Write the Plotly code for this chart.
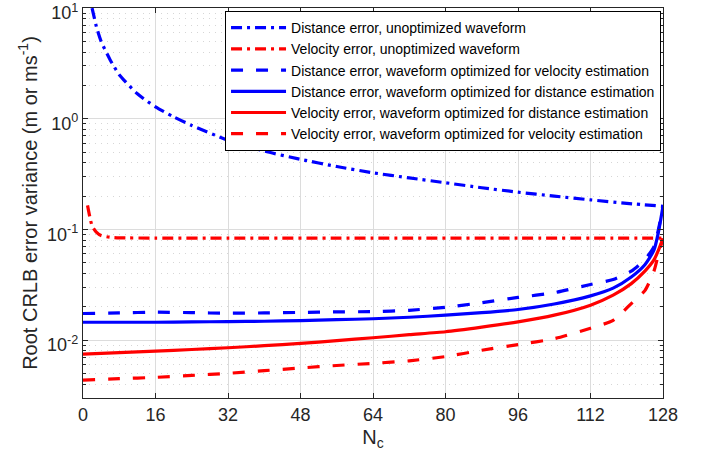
import plotly.graph_objects as go

# Number of chirps on the x axis
n_dist_unopt = [2, 3, 4, 6, 8, 12, 16, 20, 24, 32, 40, 48, 56, 64, 72, 80, 88, 96, 104, 112, 120, 128]
dist_unopt = [10.0, 6.7, 5.0, 3.4, 2.5, 1.68, 1.28, 1.04, 0.87, 0.64, 0.51, 0.43, 0.37, 0.325,
              0.292, 0.264, 0.238, 0.217, 0.2, 0.185, 0.172, 0.162]

n_vel_unopt = [1, 1.5, 2, 3, 4, 6, 8, 16, 32, 64, 96, 128]
vel_unopt = [0.165, 0.13, 0.108, 0.094, 0.088, 0.085, 0.084, 0.0835, 0.0835, 0.0835, 0.0835, 0.0835]

n_opt = [0, 8, 16, 24, 32, 40, 48, 56, 64, 72, 80, 88, 96, 104, 112, 117, 121, 124, 126, 127, 128]
dist_opt_vel = [0.0174, 0.0176, 0.0179, 0.0177, 0.0175, 0.0176, 0.0178, 0.018, 0.0181, 0.0186,
                0.0198, 0.0218, 0.0243, 0.0268, 0.0318, 0.0353, 0.042, 0.0534, 0.07, 0.1, 0.162]
dist_opt_dist = [0.0145, 0.0145, 0.0145, 0.0146, 0.0147, 0.0148, 0.015, 0.0153, 0.0156, 0.0161,
                 0.0168, 0.0177, 0.0189, 0.0212, 0.0251, 0.0295, 0.0372, 0.048, 0.065, 0.095, 0.162]
vel_opt_dist = [0.00748, 0.0077, 0.00796, 0.00823, 0.00853, 0.0089, 0.00933, 0.0099, 0.0105,
                0.0112, 0.0119, 0.0131, 0.0146, 0.0168, 0.0207, 0.0255, 0.0324, 0.042, 0.053, 0.065, 0.083]
vel_opt_vel = [0.00436, 0.00448, 0.00461, 0.0048, 0.00501, 0.0053, 0.0056, 0.0059, 0.00617,
               0.0065, 0.0071, 0.0081, 0.0091, 0.0103, 0.0128, 0.0151, 0.0214, 0.028, 0.042, 0.06, 0.083]

x_ticks = [0, 16, 32, 48, 64, 80, 96, 112, 128]
y_ticks = [0.01, 0.1, 1, 10]
y_tick_text = ["10<sup>-2</sup>", "10<sup>-1</sup>", "10<sup>0</sup>", "10<sup>1</sup>"]
y_minor = [m * 10.0 ** k for k in range(-3, 1) for m in range(2, 10)]

BLUE = "#0000ff"
RED = "#ff0000"
DASHDOT = "11px,5px,3px,5px"
DASH = "12px,13px"
LW = 3.2

fig = go.Figure()
series = [
    (n_dist_unopt, dist_unopt, BLUE, DASHDOT, "Distance error, unoptimized waveform"),
    (n_vel_unopt, vel_unopt, RED, DASHDOT, "Velocity error, unoptimized waveform"),
    (n_opt, dist_opt_vel, BLUE, DASH, "Distance error, waveform optimized for velocity estimation"),
    (n_opt, dist_opt_dist, BLUE, "solid", "Distance error, waveform optimized for distance estimation"),
    (n_opt, vel_opt_dist, RED, "solid", "Velocity error, waveform optimized for distance estimation"),
    (n_opt, vel_opt_vel, RED, DASH, "Velocity error, waveform optimized for velocity estimation"),
]
for xs, ys, color, dash, name in series:
    fig.add_trace(go.Scatter(
        x=xs, y=ys, mode="lines", name=name,
        line=dict(color=color, width=LW, dash=dash, shape="spline", smoothing=0.6),
    ))

axis_line = "#262626"
fig.update_layout(
    width=706, height=464,
    margin=dict(l=83, r=43, t=8, b=66, autoexpand=False),
    paper_bgcolor="white", plot_bgcolor="white",
    font=dict(family="Liberation Sans, Arial, sans-serif", color="#262626"),
    showlegend=True,
    legend=dict(
        x=0.9966, y=0.992, xanchor="right", yanchor="top",
        bgcolor="white", bordercolor="#000000", borderwidth=1,
        font=dict(size=14, color="#000000"), itemwidth=55,
        tracegroupgap=0,
    ),
)
fig.update_xaxes(
    range=[0, 128], tickvals=x_ticks, ticktext=[str(v) for v in x_ticks],
    showgrid=True, gridcolor="#dcdcdc", gridwidth=1,
    showline=True, linecolor=axis_line, linewidth=1.3, mirror="ticks",
    ticks="inside", ticklen=5, tickcolor=axis_line,
    tickfont=dict(size=18), zeroline=False, ticklabeloverflow="allow", automargin=False,
    title=dict(text="N<sub>c</sub>", font=dict(size=20), standoff=6),
)
fig.update_yaxes(
    type="log", range=[-2.5229, 1.0004],
    tickvals=y_ticks, ticktext=y_tick_text,
    showgrid=True, gridcolor="#dcdcdc", gridwidth=1,
    showline=True, linecolor=axis_line, linewidth=1.3, mirror="ticks",
    ticks="inside", ticklen=5, tickcolor=axis_line,
    tickfont=dict(size=18), zeroline=False, ticklabeloverflow="allow", automargin=False,
    ticklabelshift=5,
    minor=dict(tickvals=y_minor, ticks="inside", ticklen=3, tickcolor=axis_line,
               showgrid=True, gridcolor="#d6d6d6", griddash="1px,5px", gridwidth=1),
    title=dict(text="Root CRLB error variance (m or ms<sup>-1</sup>)", font=dict(size=20), standoff=4),
)

fig.write_html("out.html")
